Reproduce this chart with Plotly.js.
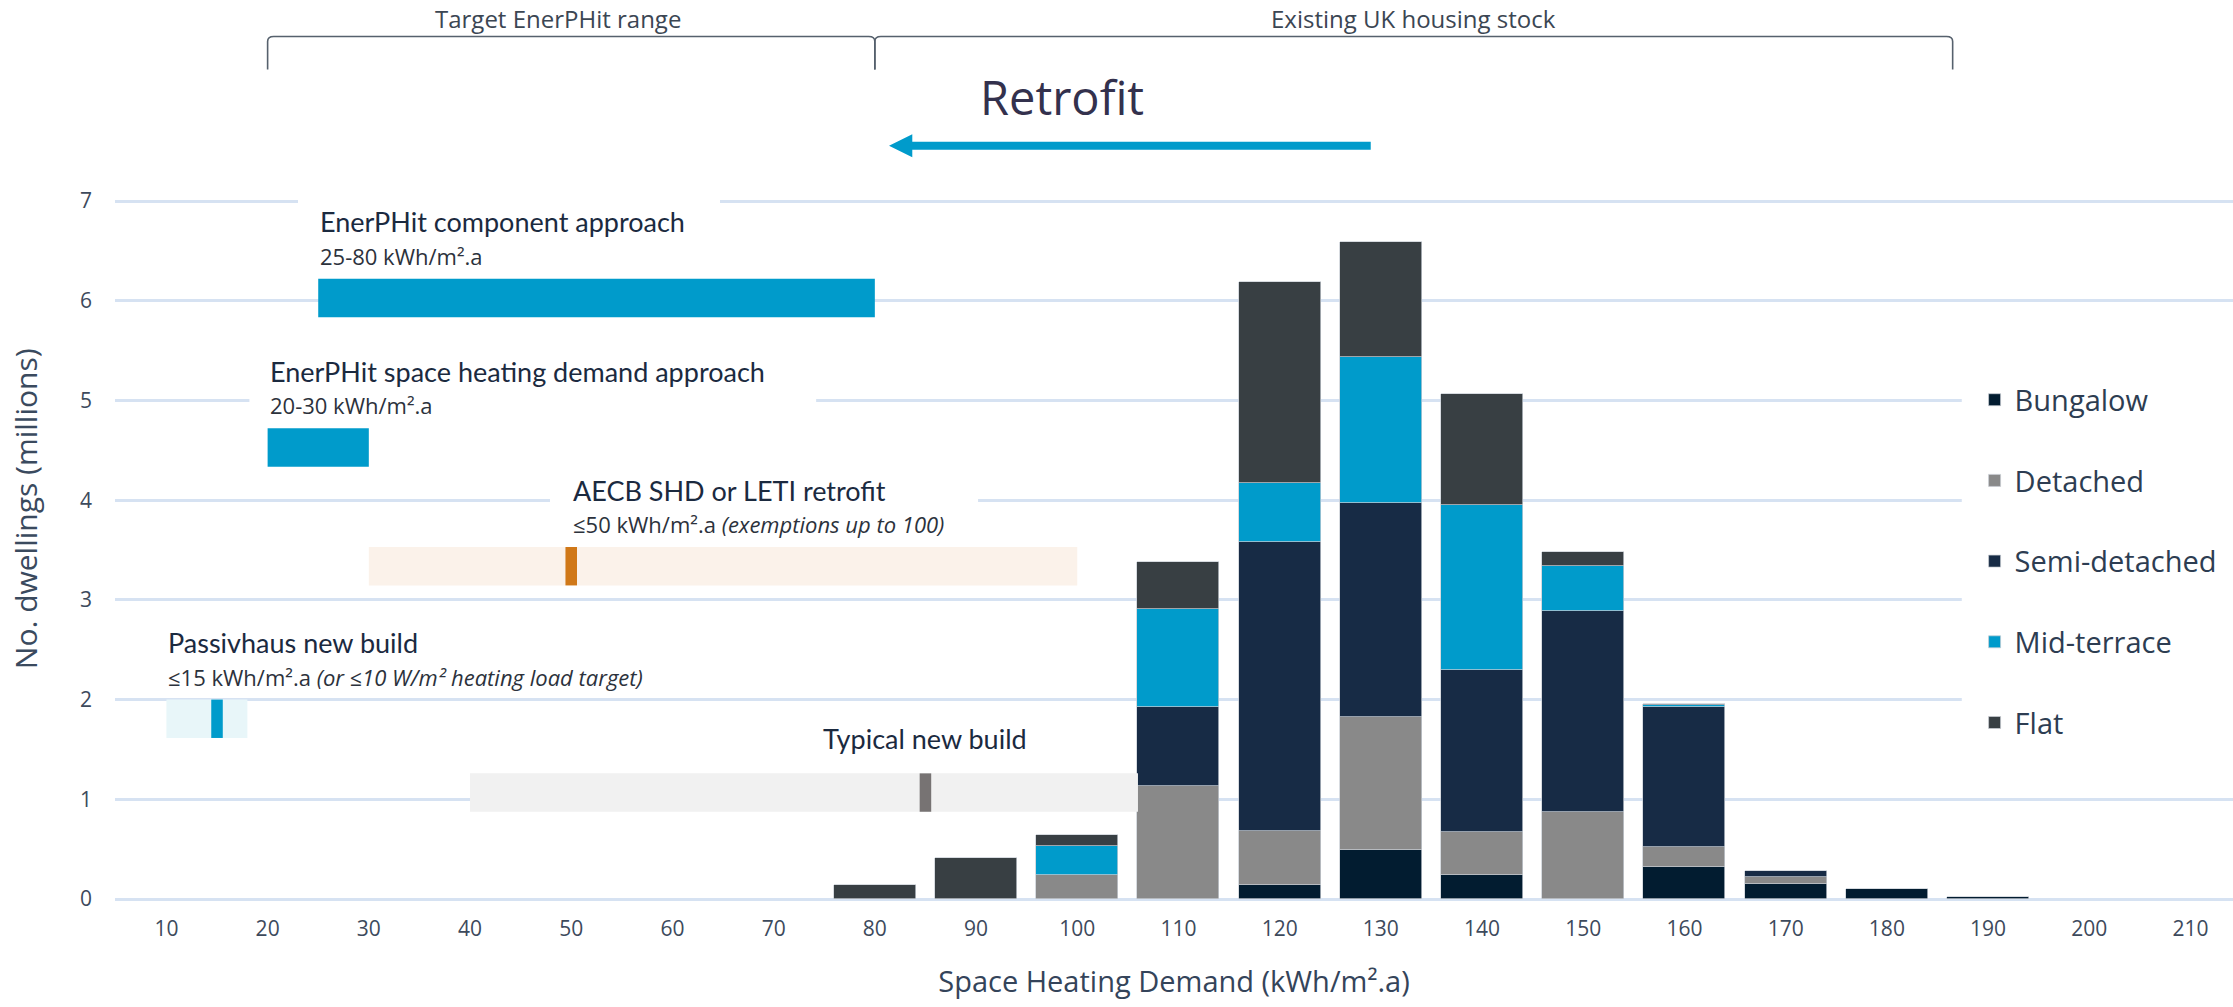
<!DOCTYPE html>
<html>
<head>
<meta charset="utf-8">
<script src="https://cdn.plot.ly/plotly-3.0.1.min.js"></script>
<style>html,body{margin:0;padding:0;background:#fff;}#chart{width:2233px;height:1007px;}</style>
</head>
<body>
<div id="chart"></div>
<script>
// ---------- DATA ----------
const categories = [10, 20, 30, 40, 50, 60, 70, 80, 90, 100, 110, 120, 130, 140, 150, 160, 170, 180, 190, 200, 210];
const bungalow     = [0, 0, 0, 0, 0, 0, 0, 0,    0,     0,     0,     0.14,  0.488, 0.244, 0,     0.318, 0.148, 0.102, 0.025, 0, 0];
const detached     = [0, 0, 0, 0, 0, 0, 0, 0,    0,     0.244, 1.13,  0.542, 1.337, 0.425, 0.873, 0.208, 0.068, 0,     0,     0, 0];
const semiDetached = [0, 0, 0, 0, 0, 0, 0, 0,    0,     0,     0.796, 2.902, 2.144, 1.631, 2.019, 1.40,  0.06,  0,     0,     0, 0];
const midTerrace   = [0, 0, 0, 0, 0, 0, 0, 0,    0,     0.291, 0.98,  0.586, 1.464, 1.655, 0.445, 0.015, 0,     0,     0,     0, 0];
const flat         = [0, 0, 0, 0, 0, 0, 0, 0.14, 0.41,  0.105, 0.471, 2.02,  1.154, 1.107, 0.14,  0.012, 0,     0,     0,     0, 0];
const seriesNames  = ['Bungalow', 'Detached', 'Semi-detached', 'Mid-terrace', 'Flat'];

const bandTitles = ['EnerPHit component approach', 'EnerPHit space heating demand approach', 'AECB SHD or LETI retrofit', 'Passivhaus new build', 'Typical new build'];
const bandNotes  = ['25-80 kWh/m².a', '20-30 kWh/m².a', '≤50 kWh/m².a <i>(exemptions up to 100)</i>', '≤15 kWh/m².a <i>(or ≤10 W/m² heating load target)</i>', ''];
const bandLow    = [25, 20, 30, 10, 40];
const bandHigh   = [80, 30, 100, 18, 106];
const bandTarget = [null, null, 50, 15, 85];

const bracketLabels = ['Target EnerPHit range', 'Existing UK housing stock'];
const bracketFrom   = [20, 80];
const bracketTo     = [80, 186.5];
const retrofitLabel = 'Retrofit';
const retrofitFromTo = [129, 81.4];

// ---------- STYLE / LAYOUT ----------
const seriesColors = ['#021c30', '#898989', '#172b45', '#009bcb', '#383f43'];
const seriesValues = [bungalow, detached, semiDetached, midTerrace, flat];

const bandTop     = [6.22, 4.72, 3.53, 2.0, 1.26];
const bandH       = 0.385;
const bandFill    = ['#009bcb', '#009bcb', '#fbf2ea', '#e8f6f9', '#f1f1f1'];
const markColor   = [null, null, '#d07818', '#009bcb', '#777373'];
const titleAnchor = ['low', 'low', 'target', 'low', 'center'];

const traces = seriesNames.map((n, i) => ({
  type: 'bar', name: n, x: categories,
  y: seriesValues[i].map(v => (v === 0 ? null : v)),
  width: 8.1,
  legendgroup: n,
  marker: {color: seriesColors[i], line: {color: 'rgba(200,205,212,0.9)', width: 0.8}},
  hoverinfo: 'x+y+name'
}));

const shapes = [];
const annotations = [];

// white gaps in gridlines behind labels
function gap(x0, x1, y0, y1) {
  shapes.push({type: 'rect', xref: 'x', yref: 'y', x0: x0, x1: x1, y0: y0, y1: y1,
    fillcolor: '#ffffff', line: {width: 0}, layer: 'above'});
}
gap(23.0, 64.7, 6.94, 7.06);
gap(18.2, 74.2, 4.94, 5.06);
gap(47.9, 90.2, 3.94, 4.06);
gap(187.4, 216, 1.2, 5.85);

// bands
bandTitles.forEach((t, i) => {
  const top = bandTop[i];
  shapes.push({type: 'rect', xref: 'x', yref: 'y', x0: bandLow[i], x1: bandHigh[i], y0: top - bandH, y1: top,
    fillcolor: bandFill[i], line: {width: 0}, layer: 'above'});
  if (bandTarget[i] !== null) {
    shapes.push({type: 'rect', xref: 'x', yref: 'y', x0: bandTarget[i] - 0.57, x1: bandTarget[i] + 0.57, y0: top - bandH, y1: top,
      fillcolor: markColor[i], line: {width: 0}, layer: 'above'});
  }
  let ax, anc;
  if (titleAnchor[i] === 'low') { ax = bandLow[i]; anc = 'left'; }
  else if (titleAnchor[i] === 'target') { ax = bandTarget[i]; anc = 'left'; }
  else { ax = bandTarget[i]; anc = 'center'; }
  const ty = bandNotes[i] ? top + 0.57 : top + 0.35;
  annotations.push({x: ax, y: ty, xref: 'x', yref: 'y', xanchor: anc, yanchor: 'middle', showarrow: false,
    text: t, font: {family: 'Lato, Open Sans, sans-serif', size: 27, color: '#1b2a3f'}});
  if (bandNotes[i]) {
    annotations.push({x: ax, y: top + 0.23, xref: 'x', yref: 'y', xanchor: anc, yanchor: 'middle', showarrow: false,
      text: bandNotes[i], font: {family: 'Open Sans, sans-serif', size: 22, color: '#2c323c'}});
  }
});

// brackets
const yTop = 8.65, yBot = 8.32;
const bracketShift = [-13, 0];
bracketLabels.forEach((lab, i) => {
  const a = bracketFrom[i], b = bracketTo[i];
  shapes.push({type: 'path', xref: 'x', yref: 'y', layer: 'above',
    path: `M${a},${yBot} L${a},${yTop - 0.05} Q${a},${yTop} ${a + 0.6},${yTop} L${b - 0.6},${yTop} Q${b},${yTop} ${b},${yTop - 0.05} L${b},${yBot}`,
    line: {color: '#56616d', width: 1.6}});
  annotations.push({x: (a + b) / 2, y: 8.83, xref: 'x', yref: 'y', xanchor: 'center', yanchor: 'middle', showarrow: false,
    xshift: bracketShift[i],
    text: lab, font: {family: 'Open Sans, sans-serif', size: 24, color: '#3b4653'}});
});

// retrofit arrow
const tail = retrofitFromTo[0], tip = retrofitFromTo[1];
const ay = 7.554, sh = 0.04, hh = 0.115, hl = 2.3;
shapes.push({type: 'path', xref: 'x', yref: 'y', layer: 'above',
  path: `M${tail},${ay + sh} L${tip + hl},${ay + sh} L${tip + hl},${ay + hh} L${tip},${ay} L${tip + hl},${ay - hh} L${tip + hl},${ay - sh} L${tail},${ay - sh} Z`,
  fillcolor: '#009bcb', line: {width: 0}});
annotations.push({x: 90.2, y: 8.04, xref: 'x', yref: 'y', xanchor: 'left', yanchor: 'middle', showarrow: false,
  text: retrofitLabel, font: {family: 'Open Sans, sans-serif', size: 47, color: '#33314d'}});

// y axis title
annotations.push({x: -0.0425, y: 0.436, xref: 'paper', yref: 'paper', xanchor: 'center', yanchor: 'middle', showarrow: false,
  textangle: -90, text: 'No. dwellings (millions)', font: {family: 'Open Sans, sans-serif', size: 30, color: '#3a4a5e'}});

const layout = {
  width: 2233, height: 1007,
  margin: {l: 115, r: 0, t: 0, b: 106},
  paper_bgcolor: '#ffffff', plot_bgcolor: '#ffffff',
  barmode: 'stack', bargap: 0,
  showlegend: true,
  legend: {x: 0.878, xanchor: 'left', y: 0.5845, yanchor: 'top', bgcolor: '#ffffff',
    font: {family: 'Open Sans, sans-serif', size: 29, color: '#2d3d52'},
    traceorder: 'grouped', tracegroupgap: 40},
  xaxis: {range: [4.92, 214.2], tickvals: categories, showgrid: false, zeroline: false, showline: false, ticks: '',
    ticklabelstandoff: 13,
    tickfont: {family: 'Open Sans, sans-serif', size: 21, color: '#3d4a5c'},
    title: {text: 'Space Heating Demand (kWh/m².a)', standoff: 30,
      font: {family: 'Open Sans, sans-serif', size: 29, color: '#34445a'}}},
  yaxis: {range: [-0.02, 9.016], tickvals: [0, 1, 2, 3, 4, 5, 6, 7], showgrid: true, gridcolor: '#d6e2f2', gridwidth: 3,
    zeroline: false, showline: false, ticks: '', ticklabelstandoff: 22,
    tickfont: {family: 'Open Sans, sans-serif', size: 21, color: '#3d4a5c'}},
  shapes: shapes,
  annotations: annotations
};

Plotly.newPlot('chart', traces, layout, {displayModeBar: false, responsive: false});
</script>
</body>
</html>
